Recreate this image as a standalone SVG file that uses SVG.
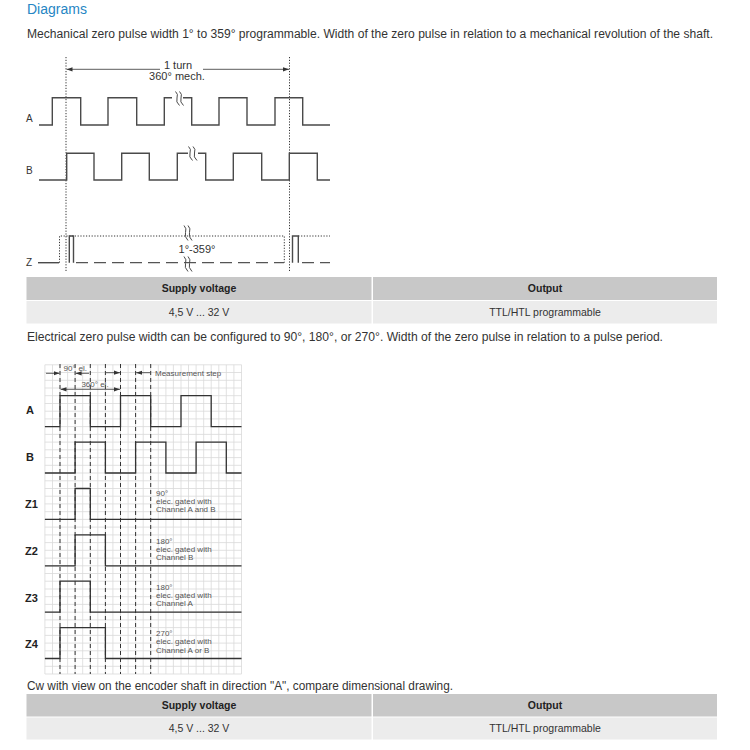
<svg xmlns="http://www.w3.org/2000/svg" width="750" height="750" viewBox="0 0 750 750">
<style>
text{font-family:"Liberation Sans",Arial,sans-serif;fill:#333}
.title{font-size:14px;fill:#2586c4}
.para{font-size:12px;fill:#333}
.lbl{font-size:10px;fill:#333}
.big{font-size:11px;fill:#333}
.blbl{font-size:11px;font-weight:bold;fill:#222}
.small{font-size:8px;fill:#555}
.th{font-size:10.5px;font-weight:bold;fill:#222;text-anchor:middle}
.td{font-size:10.5px;fill:#333;text-anchor:middle}
.sig{fill:none;stroke:#4a4a4a;stroke-width:1.4}
.sig2{fill:none;stroke:#333;stroke-width:1.3}
.dot{fill:none;stroke:#333;stroke-width:1;stroke-dasharray:1.2,1.6}
.dash{fill:none;stroke:#555;stroke-width:1.3;stroke-dasharray:12,6}
.vdash{fill:none;stroke:#333;stroke-width:1;stroke-dasharray:4,3}
.grid{fill:none;stroke:#d9d9d9;stroke-width:0.8}
.dim{fill:none;stroke:#333;stroke-width:0.8}
.wave{fill:none;stroke:#4a4a4a;stroke-width:1}
</style>
<defs>
<marker id="ah" viewBox="0 0 10 10" refX="10" refY="5" markerWidth="6" markerHeight="6" orient="auto-start-reverse" markerUnits="userSpaceOnUse">
<path d="M0,1.5 L10,5 L0,8.5 Z" fill="#333"/>
</marker>
</defs>

<g id="header">
<text class="title" x="27" y="13.5">Diagrams</text>
<text class="para" x="27" y="37.5" textLength="686" lengthAdjust="spacingAndGlyphs">Mechanical zero pulse width 1° to 359° programmable. Width of the zero pulse in relation to a mechanical revolution of the shaft.</text>
</g>

<g id="diagram1">
<line class="dot" x1="66" y1="57" x2="66" y2="271"/>
<line class="dot" x1="289.5" y1="57" x2="289.5" y2="271"/>
<line class="dim" x1="160" y1="69.3" x2="66.5" y2="69.3" marker-end="url(#ah)"/>
<line class="dim" x1="203" y1="69.3" x2="289" y2="69.3" marker-end="url(#ah)"/>
<text class="big" x="178" y="69" text-anchor="middle">1 turn</text>
<text class="big" x="177" y="79.5" text-anchor="middle">360° mech.</text>

<text class="lbl" x="26" y="121.5">A</text>
<path class="sig" d="M39,125 H52.3 V97.7 H80.7 V125 H108 V97.7 H136.7 V125 H164.3 V97.7 H172 M183,97.7 H191.7 V125 H219 V97.7 H247 V125 H275 V97.7 H302.7 V125 H330"/>
<path class="wave" d="M175.5,91.5 q3,2.5 1.5,6.5 q-1.5,4 2.5,7.5 M179.5,91.5 q3,2.5 1.5,6.5 q-1.5,4 2.5,7.5"/>

<text class="lbl" x="26" y="174">B</text>
<path class="sig" d="M39,180 H66.7 V153.3 H94 V180 H121.7 V153.3 H149.3 V180 H177.3 V153.3 H188 M198,153.3 H205.7 V180 H233.3 V153.3 H261.7 V180 H289.3 V153.3 H317.3 V180 H330"/>
<path class="wave" d="M188.5,146.5 q3,2.5 1.5,6.5 q-1.5,4 2.5,7.5 M193,146.5 q3,2.5 1.5,6.5 q-1.5,4 2.5,7.5"/>

<text class="lbl" x="26" y="266">Z</text>
<path class="sig" d="M38,262.7 H59"/>
<path class="dot" d="M59.5,262.7 V236 H284.3 V262.7 M298.3,236 H330"/>
<path class="sig" d="M69.3,262.7 V236 H73.5 V262.7"/>
<path class="dash" d="M76,262.7 H284"/>
<path class="sig" d="M292.5,262.7 V236 H298.3 V262.7"/>
<path class="dash" d="M302,262.7 H330"/>
<path class="wave" d="M184,225.5 q3,3 1.5,7 q-1.5,4 2.5,8 M188,225.5 q3,3 1.5,7 q-1.5,4 2.5,8 M184,256.5 q3,3 1.5,7 q-1.5,4 2.5,8 M188,256.5 q3,3 1.5,7 q-1.5,4 2.5,8"/>
<text class="big" x="197" y="252.5" text-anchor="middle">1°-359°</text>
</g>

<g id="table1">
<rect x="26.5" y="277" width="345" height="23" fill="#c8c8c8"/>
<rect x="373" y="277" width="344" height="23" fill="#c8c8c8"/>
<rect x="26.5" y="301" width="345" height="22.5" fill="#ececec"/>
<rect x="373" y="301" width="344" height="22.5" fill="#ececec"/>
<text class="th" x="199" y="292">Supply voltage</text>
<text class="th" x="545" y="292">Output</text>
<text class="td" x="199" y="315.5">4,5 V ... 32 V</text>
<text class="td" x="545" y="315.5">TTL/HTL programmable</text>
</g>

<g id="para2">
<text class="para" x="27" y="341" textLength="636" lengthAdjust="spacingAndGlyphs">Electrical zero pulse width can be configured to 90°, 180°, or 270°. Width of the zero pulse in relation to a pulse period.</text>
</g>

<g id="diagram2">
<path class="grid" d="M44.9,364.8V674 M52.5,364.8V674 M60,364.8V674 M67.6,364.8V674 M75.1,364.8V674 M82.7,364.8V674 M90.3,364.8V674 M97.8,364.8V674 M105.4,364.8V674 M112.9,364.8V674 M120.5,364.8V674 M128.1,364.8V674 M135.6,364.8V674 M143.2,364.8V674 M150.7,364.8V674 M158.3,364.8V674 M165.9,364.8V674 M173.4,364.8V674 M181,364.8V674 M188.5,364.8V674 M196.1,364.8V674 M203.7,364.8V674 M211.2,364.8V674 M218.8,364.8V674 M226.3,364.8V674 M233.9,364.8V674 M241.5,364.8V674
M44.9,364.8H241.5 M44.9,372.5H241.5 M44.9,380.3H241.5 M44.9,388H241.5 M44.9,395.7H241.5 M44.9,403.5H241.5 M44.9,411.2H241.5 M44.9,418.9H241.5 M44.9,426.6H241.5 M44.9,434.4H241.5 M44.9,442.1H241.5 M44.9,449.8H241.5 M44.9,457.6H241.5 M44.9,465.3H241.5 M44.9,473H241.5 M44.9,480.8H241.5 M44.9,488.5H241.5 M44.9,496.2H241.5 M44.9,503.9H241.5 M44.9,511.7H241.5 M44.9,519.4H241.5 M44.9,527.1H241.5 M44.9,534.9H241.5 M44.9,542.6H241.5 M44.9,550.3H241.5 M44.9,558.1H241.5 M44.9,565.8H241.5 M44.9,573.5H241.5 M44.9,581.2H241.5 M44.9,589H241.5 M44.9,596.7H241.5 M44.9,604.4H241.5 M44.9,612.2H241.5 M44.9,619.9H241.5 M44.9,627.6H241.5 M44.9,635.4H241.5 M44.9,643.1H241.5 M44.9,650.8H241.5 M44.9,658.5H241.5 M44.9,666.3H241.5 M44.9,674H241.5"/>
<path class="vdash" d="M60,364 V674 M75.1,364 V674 M90.3,364 V674 M105.4,364 V674 M120.5,364 V674 M135.6,364 V674 M150.7,364 V674"/>

<line class="dim" x1="46" y1="373.3" x2="59.5" y2="373.3" marker-end="url(#ah)"/>
<line class="dim" x1="89" y1="373.3" x2="75.6" y2="373.3" marker-end="url(#ah)"/>
<text class="small" x="63.5" y="370.5">90°</text>
<text class="small" x="78.5" y="370.5">el.</text>
<line class="dim" x1="60.5" y1="389.3" x2="120" y2="389.3" marker-start="url(#ah)" marker-end="url(#ah)"/>
<text class="small" x="95" y="386.5" text-anchor="middle">360° el.</text>
<line class="dim" x1="106" y1="372.7" x2="120" y2="372.7" marker-end="url(#ah)"/>
<line class="dim" x1="150" y1="372.7" x2="136.1" y2="372.7" marker-end="url(#ah)"/>
<text class="small" x="155" y="375.5">Measurement step</text>

<text class="blbl" x="26" y="414">A</text>
<path class="sig2" d="M44.9,426.6 H60 V395.7 H90.3 V426.6 H120.5 V395.7 H150.7 V426.6 H181 V395.7 H211.2 V426.6 H241.5"/>
<text class="blbl" x="26" y="460.5">B</text>
<path class="sig2" d="M44.9,473 H75.1 V442.1 H105.4 V473 H135.6 V442.1 H165.9 V473 H196.1 V442.1 H226.3 V473 H241.5"/>

<text class="blbl" x="25" y="508">Z1</text>
<path class="sig2" d="M44.9,519.4 H75.1 V488.5 H90.3 V519.4 H241.5"/>
<text class="small" x="156" y="496">90°</text>
<text class="small" x="156" y="504.3">elec. gated with</text>
<text class="small" x="156" y="512">Channel A and B</text>

<text class="blbl" x="25" y="554.5">Z2</text>
<path class="sig2" d="M44.9,565.8 H75.1 V534.9 H105.4 V565.8 H241.5"/>
<text class="small" x="156" y="543.5">180°</text>
<text class="small" x="156" y="551.8">elec. gated with</text>
<text class="small" x="156" y="560">Channel B</text>

<text class="blbl" x="25" y="601.5">Z3</text>
<path class="sig2" d="M44.9,612.2 H60 V581.2 H90.3 V612.2 H241.5"/>
<text class="small" x="156" y="589.5">180°</text>
<text class="small" x="156" y="597.5">elec. gated with</text>
<text class="small" x="156" y="605.8">Channel A</text>

<text class="blbl" x="25" y="648">Z4</text>
<path class="sig2" d="M44.9,658.5 H60 V627.6 H105.4 V658.5 H241.5"/>
<text class="small" x="156" y="636">270°</text>
<text class="small" x="156" y="644">elec. gated with</text>
<text class="small" x="156" y="652.5">Channel A or B</text>
</g>

<g id="para3">
<text class="para" x="27" y="690" textLength="426" lengthAdjust="spacingAndGlyphs">Cw with view on the encoder shaft in direction "A", compare dimensional drawing.</text>
</g>

<g id="table2">
<rect x="26.5" y="694" width="345" height="22.5" fill="#c8c8c8"/>
<rect x="373" y="694" width="344" height="22.5" fill="#c8c8c8"/>
<rect x="26.5" y="717.5" width="345" height="22" fill="#ececec"/>
<rect x="373" y="717.5" width="344" height="22" fill="#ececec"/>
<text class="th" x="199" y="708.5">Supply voltage</text>
<text class="th" x="545" y="708.5">Output</text>
<text class="td" x="199" y="731.5">4,5 V ... 32 V</text>
<text class="td" x="545" y="731.5">TTL/HTL programmable</text>
</g>
</svg>
